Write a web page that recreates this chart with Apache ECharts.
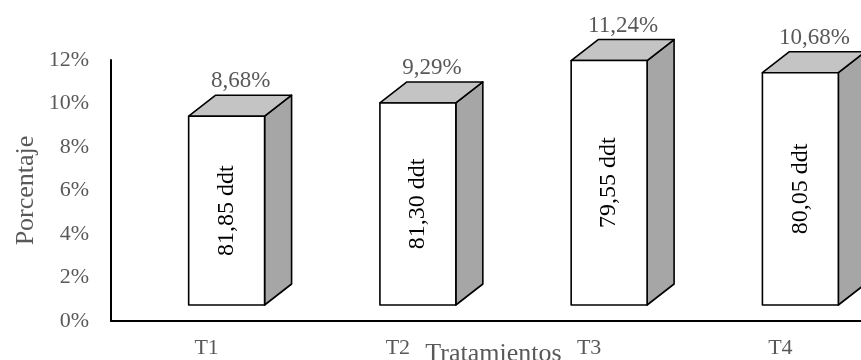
<!DOCTYPE html>
<html>
<head>
<meta charset="utf-8">
<style>
  html, body { margin: 0; padding: 0; background: #ffffff; }
  #chart { width: 861px; height: 360px; }
</style>
<script src="https://cdn.jsdelivr.net/npm/echarts@6/dist/echarts.min.js"></script>
</head>
<body>
<div id="chart"></div>
<script>
// Treatments and their percentage, with the days-after-transplant note per bar
const categories = ['T1', 'T2', 'T3', 'T4'];
const percentages = [8.68, 9.29, 11.24, 10.68];
const percentLabels = ['8,68%', '9,29%', '11,24%', '10,68%'];
const innerLabels = ['81,85 ddt', '81,30 ddt', '79,55 ddt', '80,05 ddt'];
const yTicks = [0, 2, 4, 6, 8, 10, 12];

const FONT = '"Liberation Serif", "Times New Roman", serif';
const GREY_TEXT = '#595959';

// 3D box geometry (pixels)
const DEPTH_X = 27;      // depth offset to the right
const DEPTH_Y = 21;      // depth offset upwards
const FLOOR_LIFT = 16;   // front face floor sits above the category axis
const SHIFT_X = 20;      // front face shift from the category centre
const WIDTH_FRAC = 0.397;

function renderBox(params, api) {
  const idx = api.value(0);
  const base = api.coord([idx, 0]);
  const topPt = api.coord([idx, api.value(1)]);
  const band = api.size([1, 0])[0];
  const w = band * WIDTH_FRAC;
  const h = base[1] - topPt[1];
  const x0 = base[0] + SHIFT_X - w / 2;
  const yb = base[1] - FLOOR_LIFT;
  const yt = yb - h;
  const edge = { stroke: '#000000', lineWidth: 1.6, lineJoin: 'round' };
  return {
    type: 'group',
    children: [
      {
        type: 'polygon',
        shape: { points: [[x0 + w, yt], [x0 + w + DEPTH_X, yt - DEPTH_Y], [x0 + w + DEPTH_X, yb - DEPTH_Y], [x0 + w, yb]] },
        style: Object.assign({ fill: '#a6a6a6' }, edge)
      },
      {
        type: 'polygon',
        shape: { points: [[x0, yt], [x0 + w, yt], [x0 + w + DEPTH_X, yt - DEPTH_Y], [x0 + DEPTH_X, yt - DEPTH_Y]] },
        style: Object.assign({ fill: '#c4c4c4' }, edge)
      },
      {
        type: 'rect',
        shape: { x: x0, y: yt, width: w, height: h },
        style: Object.assign({ fill: '#ffffff' }, edge)
      },
      {
        type: 'text',
        x: x0 + w / 2,
        y: yt + h / 2,
        rotation: Math.PI / 2,
        style: {
          text: innerLabels[idx],
          fill: '#000000',
          font: '24px ' + FONT,
          align: 'center',
          verticalAlign: 'middle'
        }
      },
      {
        type: 'text',
        x: x0 + w / 2 + 14,
        y: yt - DEPTH_Y - 14,
        style: {
          text: percentLabels[idx],
          fill: GREY_TEXT,
          font: '23px ' + FONT,
          align: 'center',
          verticalAlign: 'middle'
        }
      }
    ]
  };
}

const chart = echarts.init(document.getElementById('chart'), null, { renderer: 'canvas' });
chart.setOption({
  animation: false,
  backgroundColor: '#ffffff',
  grid: { left: 111, right: -15, top: 60, bottom: 39, containLabel: false, outerBoundsMode: 'none' },
  xAxis: {
    type: 'category',
    data: categories,
    axisLine: { show: true, lineStyle: { color: '#000000', width: 2 } },
    axisTick: { show: false },
    axisLabel: { color: GREY_TEXT, fontFamily: FONT, fontSize: 22, margin: 16 },
    name: 'Tratamientos',
    nameLocation: 'middle',
    nameGap: 20,
    nameMoveOverlap: false,
    nameTextStyle: { color: GREY_TEXT, fontFamily: FONT, fontSize: 26 }
  },
  yAxis: {
    type: 'value',
    min: yTicks[0],
    max: yTicks[yTicks.length - 1],
    interval: yTicks[1] - yTicks[0],
    axisLine: { show: true, lineStyle: { color: '#000000', width: 2 } },
    axisTick: { show: false },
    splitLine: { show: false },
    axisLabel: { color: GREY_TEXT, fontFamily: FONT, fontSize: 22, margin: 22, formatter: '{value}%' },
    name: 'Porcentaje',
    nameLocation: 'middle',
    nameGap: 72,
    nameMoveOverlap: false,
    nameTextStyle: { color: GREY_TEXT, fontFamily: FONT, fontSize: 26 }
  },
  series: [{
    type: 'custom',
    renderItem: renderBox,
    clip: false,
    data: categories.map((c, i) => [i, percentages[i]]),
    encode: { x: 0, y: 1 }
  }]
});
</script>
</body>
</html>
